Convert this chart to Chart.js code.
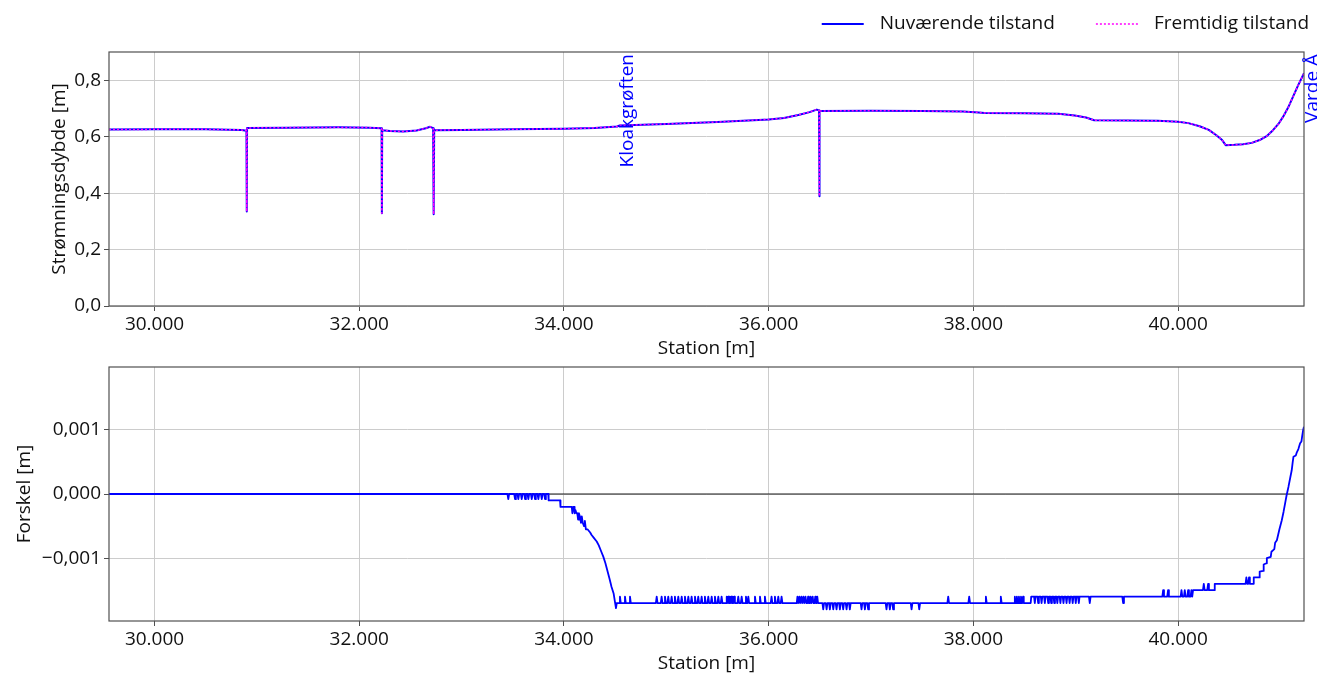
<!DOCTYPE html>
<html lang="da">
<head>
<meta charset="utf-8">
<title>Strømningsdybde</title>
<script src="https://cdn.jsdelivr.net/npm/chart.js@4.4.1/dist/chart.umd.min.js"></script>
<style>
  html, body { margin: 0; padding: 0; background: #fff; }
  .panel { position: absolute; left: 0; width: 1317px; }
  #depthPanel { top: 0; height: 360px; }
  #diffPanel { top: 340px; height: 335px; }
</style>
</head>
<body>
<div class="panel" id="depthPanel"><canvas id="depthChart"></canvas></div>
<div class="panel" id="diffPanel"><canvas id="diffChart"></canvas></div>
<script>
// axis limits and ticks
const stationMin = 29555;
const stationMax = 41230;
const stationTicks = [30000, 32000, 34000, 36000, 38000, 40000];
const depthMax = 0.9;
const depthTicks = [0, 0.2, 0.4, 0.6, 0.8];
const diffLimit = 0.00198;
const diffTicks = [-0.001, 0, 0.001];

// flow depth [m] along the reach
const stations = [
  29555, 30000, 30500, 30850, 30898, 30901, 30904, 31300, 31800, 32100,
  32218, 32221, 32224, 32300, 32430, 32560, 32650, 32692, 32722, 32727,
  32732, 33000, 33500, 34000, 34300, 34520, 34545, 35000, 35500, 36000,
  36150, 36290, 36400, 36470, 36492, 36495, 36498, 37000, 37500, 37900,
  38050, 38110, 38500, 38830, 38990, 39100, 39180, 39500, 39800, 40000,
  40100, 40210, 40300, 40374, 40430, 40465, 40550, 40634, 40720, 40797,
  40870, 40927, 40980, 41025, 41075, 41122, 41170, 41230
];
const currentDepth = [
  0.625, 0.626, 0.626, 0.624, 0.621, 0.335, 0.631, 0.632, 0.633, 0.632,
  0.630, 0.329, 0.623, 0.620, 0.618, 0.622, 0.630, 0.635, 0.630, 0.325,
  0.623, 0.624, 0.626, 0.628, 0.631, 0.636, 0.640, 0.645, 0.652, 0.661,
  0.666, 0.677, 0.687, 0.696, 0.693, 0.389, 0.691, 0.692, 0.691, 0.689,
  0.686, 0.684, 0.683, 0.681, 0.675, 0.668, 0.658, 0.657, 0.656, 0.653,
  0.648, 0.637, 0.624, 0.605, 0.588, 0.570, 0.571, 0.573, 0.578, 0.588,
  0.603, 0.623, 0.645, 0.670, 0.703, 0.741, 0.780, 0.825
];
// future state differs by at most ~2 mm (lower panel)
const futureDepth = currentDepth.slice();

// named points along the reach
const placeNames = ['Kloakgrøften', 'Varde Å'];
const placeStations = [34540, 41230];

// future minus current [mm]
const differenceMm = [
  [29555, 0], [33448, 0],
  [33456, -0.08], [33464, 0],
  [33514, 0], [33522, -0.08], [33530, 0],
  [33546, 0], [33554, -0.08], [33562, 0],
  [33579, 0], [33587, -0.08], [33595, 0],
  [33612, 0], [33620, -0.08], [33628, 0],
  [33644, 0], [33652, -0.08], [33660, 0],
  [33677, 0], [33685, -0.08], [33693, 0],
  [33709, 0], [33717, -0.08], [33725, 0],
  [33742, 0], [33750, -0.08], [33758, 0],
  [33775, 0], [33783, -0.08], [33791, 0],
  [33807, 0], [33815, -0.08], [33823, 0],
  [33846, 0], [33850, -0.1], [33962, -0.1], [33966, -0.2], [34076, -0.2],
  [34082, -0.3], [34090, -0.2], [34098, -0.2], [34104, -0.3], [34112, -0.25],
  [34122, -0.3], [34130, -0.3], [34138, -0.4], [34146, -0.3], [34156, -0.35],
  [34166, -0.45], [34174, -0.35], [34184, -0.45], [34196, -0.5], [34204, -0.42],
  [34214, -0.55], [34230, -0.55], [34256, -0.6], [34270, -0.64], [34290, -0.68],
  [34320, -0.74], [34340, -0.8], [34365, -0.9], [34385, -0.98], [34405, -1.08],
  [34425, -1.2], [34445, -1.32], [34465, -1.45], [34485, -1.55], [34500, -1.7],
  [34508, -1.78], [34516, -1.7],
  [34539, -1.7], [34547, -1.6], [34555, -1.7],
  [34588, -1.7], [34596, -1.6], [34604, -1.7],
  [34637, -1.7], [34645, -1.6], [34653, -1.7],
  [34898, -1.7], [34906, -1.6], [34914, -1.7],
  [34946, -1.7], [34954, -1.6], [34962, -1.7],
  [34979, -1.7], [34987, -1.6], [34995, -1.7],
  [35011, -1.7], [35019, -1.6], [35027, -1.7],
  [35044, -1.7], [35052, -1.6], [35060, -1.7],
  [35076, -1.7], [35084, -1.6], [35092, -1.7],
  [35109, -1.7], [35117, -1.6], [35125, -1.7],
  [35142, -1.7], [35150, -1.6], [35158, -1.7],
  [35174, -1.7], [35182, -1.6], [35190, -1.7],
  [35207, -1.7], [35215, -1.6], [35223, -1.7],
  [35239, -1.7], [35247, -1.6], [35255, -1.7],
  [35272, -1.7], [35280, -1.6], [35288, -1.7],
  [35304, -1.7], [35312, -1.6], [35320, -1.7],
  [35337, -1.7], [35345, -1.6], [35353, -1.7],
  [35369, -1.7], [35377, -1.6], [35385, -1.7],
  [35402, -1.7], [35410, -1.6], [35418, -1.7],
  [35435, -1.7], [35443, -1.6], [35451, -1.7],
  [35467, -1.7], [35475, -1.6], [35483, -1.7],
  [35500, -1.7], [35508, -1.6], [35516, -1.7],
  [35532, -1.7], [35540, -1.6], [35548, -1.7],
  [35585, -1.7], [35590, -1.6], [35595, -1.7],
  [35600, -1.7], [35605, -1.6], [35610, -1.7],
  [35615, -1.7], [35620, -1.6], [35625, -1.7],
  [35630, -1.7], [35635, -1.6], [35640, -1.7],
  [35645, -1.7], [35650, -1.6], [35655, -1.7],
  [35660, -1.7], [35665, -1.6], [35670, -1.7],
  [35695, -1.7], [35703, -1.6], [35711, -1.7],
  [35728, -1.7], [35736, -1.6], [35744, -1.7],
  [35770, -1.7], [35778, -1.6], [35786, -1.7],
  [35793, -1.7], [35801, -1.6], [35809, -1.7],
  [35858, -1.7], [35866, -1.6], [35874, -1.7],
  [35907, -1.7], [35915, -1.6], [35923, -1.7],
  [35955, -1.7], [35963, -1.6], [35971, -1.7],
  [36020, -1.7], [36028, -1.6], [36036, -1.7],
  [36053, -1.7], [36061, -1.6], [36069, -1.7],
  [36086, -1.7], [36094, -1.6], [36102, -1.7],
  [36118, -1.7], [36126, -1.6], [36134, -1.7],
  [36274, -1.7], [36281, -1.6], [36288, -1.7],
  [36293, -1.7], [36300, -1.6], [36307, -1.7],
  [36313, -1.7], [36320, -1.6], [36327, -1.7],
  [36333, -1.7], [36340, -1.6], [36347, -1.7],
  [36353, -1.7], [36360, -1.6], [36367, -1.7],
  [36378, -1.7], [36385, -1.6], [36392, -1.7],
  [36403, -1.7], [36410, -1.6], [36417, -1.7],
  [36423, -1.7], [36430, -1.6], [36437, -1.7],
  [36448, -1.7], [36455, -1.6], [36462, -1.7],
  [36468, -1.7], [36475, -1.6], [36482, -1.7],
  [36525, -1.7], [36533, -1.8], [36541, -1.7],
  [36558, -1.7], [36566, -1.8], [36574, -1.7],
  [36590, -1.7], [36598, -1.8], [36606, -1.7],
  [36623, -1.7], [36631, -1.8], [36639, -1.7],
  [36655, -1.7], [36663, -1.8], [36671, -1.7],
  [36688, -1.7], [36696, -1.8], [36704, -1.7],
  [36720, -1.7], [36728, -1.8], [36736, -1.7],
  [36753, -1.7], [36761, -1.8], [36769, -1.7],
  [36785, -1.7], [36793, -1.8], [36801, -1.7],
  [36899, -1.7], [36907, -1.8], [36915, -1.7],
  [36932, -1.7], [36940, -1.8], [36948, -1.7],
  [36964, -1.7], [36972, -1.8], [36980, -1.7],
  [37143, -1.7], [37151, -1.8], [37159, -1.7],
  [37176, -1.7], [37184, -1.8], [37192, -1.7],
  [37208, -1.7], [37216, -1.8], [37224, -1.7],
  [37388, -1.7], [37396, -1.8], [37404, -1.7],
  [37463, -1.7], [37471, -1.8], [37479, -1.7],
  [37746, -1.7], [37754, -1.6], [37762, -1.7],
  [37951, -1.7], [37959, -1.6], [37967, -1.7],
  [38114, -1.7], [38122, -1.6], [38130, -1.7],
  [38260, -1.7], [38268, -1.6], [38276, -1.7],
  [38398, -1.7], [38405, -1.6], [38412, -1.7],
  [38418, -1.7], [38425, -1.6], [38432, -1.7],
  [38438, -1.7], [38445, -1.6], [38452, -1.7],
  [38458, -1.7], [38465, -1.6], [38472, -1.7],
  [38478, -1.7], [38485, -1.6], [38492, -1.7],
  [38560, -1.7], [38565, -1.6],
  [38593, -1.6], [38600, -1.7], [38607, -1.6],
  [38626, -1.6], [38633, -1.7], [38640, -1.6],
  [38659, -1.6], [38666, -1.7], [38673, -1.6],
  [38691, -1.6], [38698, -1.7], [38705, -1.6],
  [38724, -1.6], [38731, -1.7], [38738, -1.6],
  [38753, -1.6], [38760, -1.7], [38767, -1.6],
  [38783, -1.6], [38790, -1.7], [38797, -1.6],
  [38813, -1.6], [38820, -1.7], [38827, -1.6],
  [38843, -1.6], [38850, -1.7], [38857, -1.6],
  [38873, -1.6], [38880, -1.7], [38887, -1.6],
  [38903, -1.6], [38910, -1.7], [38917, -1.6],
  [38933, -1.6], [38940, -1.7], [38947, -1.6],
  [38963, -1.6], [38970, -1.7], [38977, -1.6],
  [38993, -1.6], [39000, -1.7], [39007, -1.6],
  [39023, -1.6], [39030, -1.7], [39037, -1.6],
  [39129, -1.6], [39137, -1.7], [39145, -1.6],
  [39455, -1.6], [39463, -1.7], [39471, -1.6],
  [39846, -1.6], [39854, -1.5], [39862, -1.6],
  [39894, -1.6], [39902, -1.5], [39910, -1.6],
  [40025, -1.6], [40033, -1.5], [40041, -1.6],
  [40057, -1.6], [40065, -1.5], [40073, -1.6],
  [40090, -1.6], [40098, -1.5], [40106, -1.6],
  [40122, -1.6], [40130, -1.5], [40138, -1.6],
  [40142, -1.6], [40146, -1.5],
  [40243, -1.5], [40251, -1.4], [40259, -1.5],
  [40285, -1.5], [40293, -1.4], [40301, -1.5],
  [40354, -1.5], [40358, -1.4],
  [40659, -1.4], [40667, -1.3], [40675, -1.4],
  [40685, -1.4], [40693, -1.3], [40701, -1.4],
  [40735, -1.4], [40739, -1.3],
  [40793, -1.3], [40797, -1.21], [40830, -1.2], [40836, -1.1], [40862, -1.08],
  [40867, -1.0], [40905, -0.98], [40912, -0.9], [40940, -0.86], [40948, -0.76],
  [40965, -0.72], [40990, -0.55], [41013, -0.41], [41030, -0.28], [41045, -0.15],
  [41060, -0.02], [41078, 0.11], [41095, 0.25], [41110, 0.37], [41120, 0.5],
  [41127, 0.58], [41150, 0.6], [41160, 0.65], [41175, 0.7], [41192, 0.79],
  [41205, 0.82], [41212, 0.9], [41222, 1.0], [41230, 1.05]
];

const fontFamily = '"Open Sans", sans-serif';
const textColor = '#111';
const gridColor = '#cccccc';
const frameColor = '#505050';
const axisFont = { family: fontFamily, size: 19 };

const formatStation = (v) => String(Math.round(v)).replace(/\B(?=(\d{3})+(?!\d))/g, '.');
const formatDecimal = (v, digits) => {
  const s = Math.abs(v).toFixed(digits).replace('.', ',');
  return v < -1e-12 ? '\u2212' + s : s;
};

// box round the plot area, drawn over the lines
const framePlugin = {
  id: 'frame',
  afterDatasetsDraw(chart) {
    const { ctx, chartArea: a } = chart;
    ctx.save();
    ctx.strokeStyle = frameColor;
    ctx.lineWidth = 1.2;
    ctx.strokeRect(a.left, a.top, a.right - a.left, a.bottom - a.top);
    ctx.restore();
  }
};

// vertical place names at their station
const placeLabelPlugin = {
  id: 'placeLabels',
  afterDraw(chart) {
    const { ctx, chartArea, scales } = chart;
    ctx.save();
    ctx.font = '19px ' + fontFamily;
    ctx.fillStyle = '#0000ff';
    ctx.textAlign = 'right';
    ctx.textBaseline = 'alphabetic';
    placeNames.forEach((name, i) => {
      const px = scales.x.getPixelForValue(placeStations[i]);
      ctx.save();
      ctx.translate(px + 14, chartArea.top + 2);
      ctx.rotate(-Math.PI / 2);
      ctx.fillText(name, 0, 0);
      ctx.restore();
    });
    ctx.restore();
  }
};

// legend above the plot, right aligned, legend order = dataset order
const lineLegendPlugin = {
  id: 'lineLegend',
  afterDraw(chart) {
    const ctx = chart.ctx;
    const items = chart.data.datasets.filter((d) => d.label);
    const y = 24;
    let x = 1309;
    ctx.save();
    ctx.font = '19px ' + fontFamily;
    ctx.textBaseline = 'middle';
    for (let i = items.length - 1; i >= 0; i--) {
      const ds = items[i];
      x -= ctx.measureText(ds.label).width;
      ctx.fillStyle = textColor;
      ctx.fillText(ds.label, x, y);
      x -= 16;
      ctx.beginPath();
      ctx.setLineDash(ds.borderDash || []);
      ctx.lineWidth = ds.borderWidth;
      ctx.strokeStyle = ds.borderColor;
      ctx.moveTo(x - 42, y);
      ctx.lineTo(x, y);
      ctx.stroke();
      x -= 42 + 41;
    }
    ctx.restore();
  }
};

function stationAxis() {
  return {
    type: 'linear',
    min: stationMin,
    max: stationMax,
    afterBuildTicks: (s) => { s.ticks = stationTicks.map((v) => ({ value: v })); },
    afterFit: (s) => { s.height = 54; },
    ticks: { font: axisFont, color: textColor, padding: 2, maxRotation: 0, autoSkip: false,
             callback: (v) => formatStation(v) },
    grid: { color: gridColor, lineWidth: 1, tickLength: 5, tickColor: frameColor },
    border: { display: false },
    title: { display: true, text: 'Station [m]', font: axisFont, color: textColor,
             padding: { top: 0, bottom: 0 } }
  };
}

function valueAxis(min, max, ticks, digits, title, titleGap) {
  return {
    min: min,
    max: max,
    afterBuildTicks: (s) => { s.ticks = ticks.map((v) => ({ value: v })); },
    afterFit: (s) => { s.width = 109; },
    ticks: { font: axisFont, color: textColor, padding: 3, autoSkip: false,
             callback: (v) => formatDecimal(v, digits) },
    grid: { color: gridColor, lineWidth: 1, tickLength: 5, tickColor: frameColor },
    border: { display: false },
    title: { display: true, text: title, font: axisFont, color: textColor,
             padding: { top: titleGap, bottom: 0 } }
  };
}

const common = {
  responsive: true,
  maintainAspectRatio: false,
  animation: false,
  events: [],
  plugins: { legend: { display: false }, tooltip: { enabled: false } },
  elements: { point: { radius: 0 }, line: { tension: 0, borderJoinStyle: 'round' } }
};

new Chart(document.getElementById('depthChart'), {
  type: 'line',
  data: {
    datasets: [
      {
        label: 'Nuværende tilstand',
        data: stations.map((s, i) => ({ x: s, y: currentDepth[i] })),
        borderColor: '#0000ff',
        borderWidth: 2,
        order: 1
      },
      {
        label: 'Fremtidig tilstand',
        data: stations.map((s, i) => ({ x: s, y: futureDepth[i] })),
        borderColor: '#ff00ff',
        borderWidth: 1.5,
        borderDash: [2, 2],
        order: 0
      }
    ]
  },
  options: {
    ...common,
    layout: { padding: { top: 52, right: 13, left: 0, bottom: 0 } },
    scales: {
      x: stationAxis(),
      y: valueAxis(0, depthMax, depthTicks, 1, 'Strømningsdybde [m]', 48)
    }
  },
  plugins: [framePlugin, placeLabelPlugin, lineLegendPlugin]
});

new Chart(document.getElementById('diffChart'), {
  type: 'line',
  data: {
    datasets: [
      {
        label: 'Forskel',
        data: differenceMm.map((p) => ({ x: p[0], y: p[1] / 1000 })),
        borderColor: '#0000ff',
        borderWidth: 1.8,
        order: 0
      },
      {
        data: [{ x: stationMin, y: 0 }, { x: stationMax, y: 0 }],
        borderColor: '#1a1a1a',
        borderWidth: 1.2,
        order: 1
      }
    ]
  },
  options: {
    ...common,
    layout: { padding: { top: 27, right: 13, left: 0, bottom: 0 } },
    scales: {
      x: stationAxis(),
      y: valueAxis(-diffLimit, diffLimit, diffTicks, 3, 'Forskel [m]', 13)
    }
  },
  plugins: [framePlugin]
});
</script>
</body>
</html>
